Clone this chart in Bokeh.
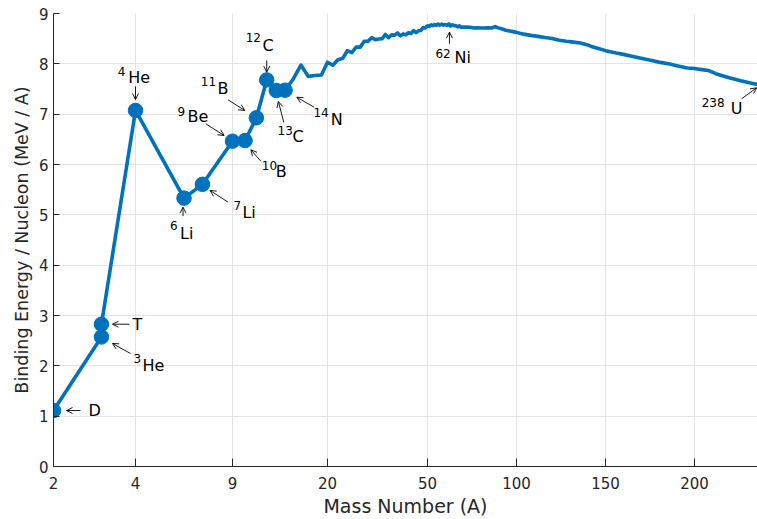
import numpy as np
from bokeh.plotting import figure
from bokeh.models import Range1d, FixedTicker, Arrow, OpenHead, ColumnDataSource, Title
from bokeh.core.properties import value
from bokeh.embed import file_html
from bokeh.resources import INLINE

# ---------------- data ----------------
# light nuclides (marked with dots), in the order the curve visits them
light_A = [2, 3, 3, 4, 6, 7, 9, 10, 11, 12, 13, 14]
light_BE = [1.112, 2.573, 2.827, 7.074, 5.332, 5.606, 6.463, 6.475, 6.928, 7.680, 7.470, 7.476]

# heavier nuclides (curve only)
heavy_A = [15, 16, 17, 18, 19, 20, 21, 22, 23, 24, 25, 26, 27, 28, 29, 30, 31, 32, 33, 34,
           35, 36, 37, 38, 39, 40, 41, 42, 43, 44, 45, 46, 47, 48, 49, 50, 51, 52, 53, 54,
           55, 56, 57, 58, 59, 60, 61, 62, 63, 64, 65, 66, 67, 68, 69, 70,
           72, 74, 76, 78, 80, 82, 84, 86, 88, 90, 92, 94, 96, 98, 100,
           104, 108, 112, 116, 120, 124, 128, 132, 136, 140, 142, 146, 150, 156, 160,
           166, 170, 176, 180, 186, 190, 196, 200, 204, 208, 212, 216, 220, 226, 232, 238]
heavy_BE = [7.699, 7.976, 7.751, 7.767, 7.779, 8.032, 7.972, 8.080, 8.112, 8.261, 8.224, 8.334,
            8.332, 8.448, 8.449, 8.521, 8.481, 8.493, 8.498, 8.584, 8.520, 8.575, 8.570, 8.614,
            8.557, 8.595, 8.576, 8.617, 8.601, 8.658, 8.619, 8.656, 8.661, 8.723, 8.711, 8.756,
            8.742, 8.776, 8.760, 8.778, 8.765, 8.790, 8.770, 8.792, 8.768, 8.781, 8.765, 8.795,
            8.752, 8.777, 8.757, 8.760, 8.734, 8.756, 8.725, 8.730,
            8.732, 8.725, 8.711, 8.718, 8.711, 8.711, 8.717, 8.712, 8.740, 8.710, 8.693, 8.667,
            8.654, 8.640, 8.625,
            8.590, 8.565, 8.545, 8.523, 8.505, 8.470, 8.448, 8.432, 8.415, 8.376, 8.346, 8.304,
            8.262, 8.215, 8.188, 8.142, 8.112, 8.064, 8.034, 7.995, 7.963, 7.918, 7.906, 7.885,
            7.867, 7.804, 7.760, 7.717, 7.662, 7.615, 7.570]

# axis ticks: mass numbers and their place on the custom (log-then-linear) axis
tick_mass = [2, 4, 9, 20, 50, 100, 150, 200]
tick_pos = [0, 82, 179, 274, 374, 463, 552, 641]
y_ticks = [0, 1, 2, 3, 4, 5, 6, 7, 8, 9]

# annotations: superscript, symbol, A, BE
ann_sup = ["", "", "3", "4", "6", "7", "9", "10", "11", "12", "13", "14", "62", "238"]
ann_sym = ["D", "T", "He", "He", "Li", "Li", "Be", "B", "B", "C", "C", "N", "Ni", "U"]
ann_A = [2, 3, 3, 4, 6, 7, 9, 10, 11, 12, 13, 14, 62, 238]
ann_BE = [1.112, 2.827, 2.573, 7.074, 5.332, 5.606, 6.463, 6.475, 6.928, 7.680, 7.470, 7.476, 8.795, 7.570]

# annotation layout, pixel offsets from the marked point: arrow start, arrow end, superscript, symbol
ann_layout = [
    ((27, 0), (13, 0), None, (35, 0)),
    ((28, 0), (11, 0), None, (31, 0)),
    ((29, 16.5), (11, 6.5), (32, 21.5), (41, 28.5)),
    ((0, -24), (0, -11), (-17.7, -39), (-7.3, -33.3)),
    ((-1, 18), (-1, 9), (-14, 27.7), (-4, 35.4)),
    ((25.6, 17.8), (7.6, 6.1), (31, 20.8), (40, 27.8)),
    ((-26.7, -17.4), (-8.4, -5.7), (-55, -29.5), (-45, -24.9)),
    ((15.8, 20.6), (5.8, 9.2), (16.8, 25.4), (30.8, 31.2)),
    ((-28.3, -18), (-11.6, -7.3), (-55.6, -36.3), (-38.9, -29)),
    ((0, -19.5), (0, -7.8), (-21, -42), (-4.2, -34.5)),
    ((7.6, 32), (2.1, 11), (1.3, 40), (16.3, 45.8)),
    ((29, 17), (11.7, 7), (28.4, 22.3), (45.7, 29.1)),
    ((0.6, 19.9), (0.6, 8.3), (-13.4, 29.9), (5.6, 34.1)),
    ((-20.5, 13.3), (-5.5, 2.3), (-60.5, 16.7), (-31.5, 23.3)),
]

# ---------------- scale ----------------
FRAME_W, FRAME_H = 704, 453
PX_Y = FRAME_H / 9.0


def axis_x(A):
    A = np.atleast_1d(np.asarray(A, dtype=float))
    km = np.array(tick_mass, dtype=float)
    kp = np.array(tick_pos, dtype=float)
    out = np.empty_like(A)
    low = A <= 50
    out[low] = np.interp(np.log(A[low]), np.log(km[:5]), kp[:5])
    slope = (kp[-1] - kp[4]) / (km[-1] - km[4])
    out[~low] = kp[4] + (A[~low] - km[4]) * slope
    return out


curve_A = light_A + heavy_A
curve_BE = light_BE + heavy_BE

BLUE = "#0072BD"
DARK = "#262626"
FONT = "DejaVu Sans"

p = figure(width=757, height=519,
           x_range=Range1d(0, FRAME_W), y_range=Range1d(0, 9),
           output_backend="svg", toolbar_location=None,
           min_border_left=53, min_border_right=0, min_border_top=13, min_border_bottom=53)
p.outline_line_color = None
p.background_fill_color = "white"

p.line(axis_x(curve_A), curve_BE, line_color=BLUE, line_width=3.6, line_join="round")
p.scatter(axis_x(light_A), light_BE, marker="circle", size=14.5,
          fill_color=BLUE, line_color=BLUE)

# annotations
ax = axis_x(ann_A)
xs, ys, xe, ye = [], [], [], []
sup_x, sup_y, sup_t = [], [], []
sym_x, sym_y, sym_t = [], [], []
for i, (st, en, sp, sy) in enumerate(ann_layout):
    x0, y0 = ax[i], ann_BE[i]
    xs.append(x0 + st[0]); ys.append(y0 - st[1] / PX_Y)
    xe.append(x0 + en[0]); ye.append(y0 - en[1] / PX_Y)
    if sp is not None:
        sup_x.append(x0 + sp[0]); sup_y.append(y0 - sp[1] / PX_Y); sup_t.append(ann_sup[i])
    sym_x.append(x0 + sy[0]); sym_y.append(y0 - sy[1] / PX_Y); sym_t.append(ann_sym[i])

arrow_src = ColumnDataSource(dict(xs=xs, ys=ys, xe=xe, ye=ye))
p.add_layout(Arrow(end=OpenHead(size=6, line_width=0.9, line_color="black"),
                   source=arrow_src, x_start="xs", y_start="ys", x_end="xe", y_end="ye",
                   line_width=0.9, line_color="black"))

p.text(sup_x, sup_y, text=sup_t, text_font=value(FONT), text_font_size="12px",
       text_align="left", text_baseline="middle", text_color="black")
p.text(sym_x, sym_y, text=sym_t, text_font=value(FONT), text_font_size="16px",
       text_align="left", text_baseline="middle", text_color="black")

# axes
p.xaxis.ticker = FixedTicker(ticks=tick_pos)
p.xaxis.major_label_overrides = {tp: str(m) for tp, m in zip(tick_pos, tick_mass)}
p.yaxis.ticker = FixedTicker(ticks=y_ticks)
p.xgrid.ticker = FixedTicker(ticks=tick_pos)
p.ygrid.ticker = FixedTicker(ticks=y_ticks)
for g in (p.xgrid, p.ygrid):
    g.grid_line_color = "#e4e4e4"
    g.grid_line_width = 1

for a in (p.xaxis, p.yaxis):
    a.axis_line_color = DARK
    a.axis_line_width = 1
    a.major_tick_line_color = DARK
    a.major_tick_out = 0
    a.minor_tick_line_color = None
    a.major_label_text_font = FONT
    a.major_label_text_font_size = "15px"
    a.major_label_text_color = DARK
p.xaxis.major_tick_in = 8
p.yaxis.major_tick_in = 6
p.xaxis.major_label_standoff = 10
p.yaxis.major_label_standoff = 5

p.xaxis.axis_label = "Mass Number (A)"
p.xaxis.axis_label_text_font = FONT
p.xaxis.axis_label_text_font_size = "19px"
p.xaxis.axis_label_text_font_style = "normal"
p.xaxis.axis_label_text_color = DARK
p.xaxis.axis_label_standoff = 3

# y-axis title on the left, shifted up as in the original
p.add_layout(Title(text="Binding Energy / Nucleon (MeV / A)", align="center", offset=48,
                   standoff=7, text_font=FONT, text_font_size="17.5px",
                   text_font_style="normal", text_color=DARK), "left")

open("out.html", "w").write(file_html(p, INLINE))
